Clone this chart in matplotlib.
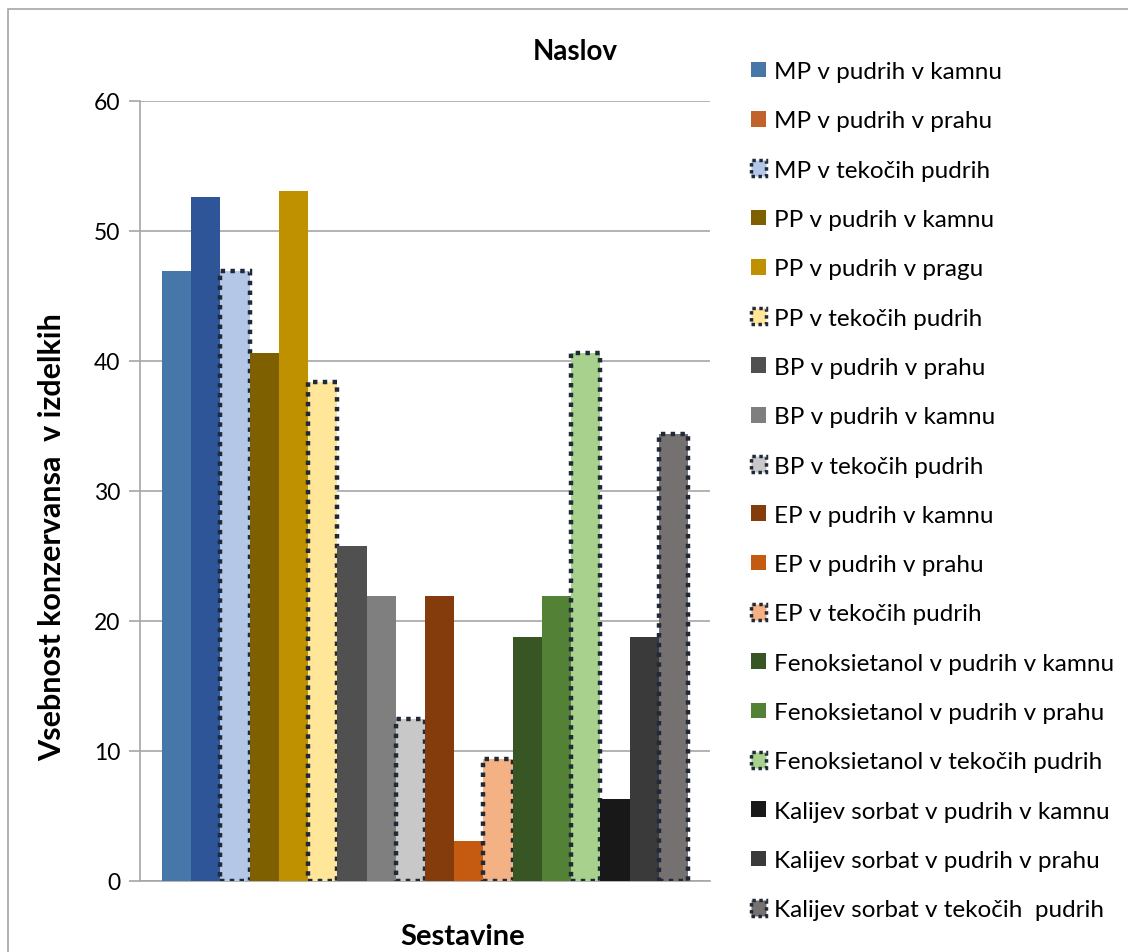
import matplotlib.pyplot as plt
from matplotlib.patches import Patch, Rectangle

# --- data ---
series = [
    "MP v pudrih v kamnu",
    "MP v pudrih v prahu",
    "MP v tekočih pudrih",
    "PP v pudrih v kamnu",
    "PP v pudrih v pragu",
    "PP v tekočih pudrih",
    "BP v pudrih v prahu",
    "BP v pudrih v kamnu",
    "BP v tekočih pudrih",
    "EP v pudrih v kamnu",
    "EP v pudrih v prahu",
    "EP v tekočih pudrih",
    "Fenoksietanol v pudrih v kamnu",
    "Fenoksietanol v pudrih v prahu",
    "Fenoksietanol v tekočih pudrih",
    "Kalijev sorbat v pudrih v kamnu",
    "Kalijev sorbat v pudrih v prahu",
    "Kalijev sorbat v tekočih  pudrih",
]
values = [46.9, 52.6, 46.9, 40.6, 53.1, 38.4, 25.8, 21.9, 12.5,
          21.9, 3.1, 9.4, 18.8, 21.9, 40.6, 6.3, 18.8, 34.4]
bar_colors = ["#4677A8", "#2E5597", "#B4C7E7", "#7F6000", "#BF9000", "#FFE699",
              "#505050", "#7F7F7F", "#C8C8C8", "#843C0C", "#C55A11", "#F4B183",
              "#375623", "#538135", "#A9D18E", "#181818", "#3A3A3A", "#767171"]
legend_colors = list(bar_colors)
legend_colors[1] = "#C0622A"
dotted = [s.startswith(("MP v t", "PP v t", "BP v t", "EP v t", "Fenoksietanol v t", "Kalijev sorbat v t"))
          for s in series]

plt.rcParams['font.family'] = ['Lato', 'DejaVu Sans']

fig = plt.figure(figsize=(11.28, 9.53), dpi=100)
ax = fig.add_axes([140 / 1128, 71 / 953, 570 / 1128, 780 / 953])

edge = "#1F2937"
for i, (v, c, d) in enumerate(zip(values, bar_colors, dotted)):
    if d:
        ax.bar(i, v, width=1.0, color=c, edgecolor=edge, linewidth=3.2,
               linestyle=(0, (1, 1.2)), zorder=3)
    else:
        ax.bar(i, v, width=1.0, color=c, linewidth=0, zorder=3)

ax.set_xlim(-1.25, 18.25)
ax.set_ylim(0, 60)
ax.set_yticks(range(0, 61, 10))
ax.set_xticks([])
ax.yaxis.grid(True, color="#A6A6A6", linewidth=1.2, zorder=0)
for s in ["top", "right"]:
    ax.spines[s].set_visible(False)
for s in ["left", "bottom"]:
    ax.spines[s].set_color("#A6A6A6")
    ax.spines[s].set_linewidth(1.2)
ax.tick_params(axis="y", length=8, width=1.2, color="#A6A6A6", labelsize=16.5, pad=6)

fig.text(575 / 1128, 1 - 52 / 953, "Naslov", ha="center", va="center",
         fontsize=20, fontweight="bold")
fig.text(463 / 1128, 1 - 937 / 953, "Sestavine", ha="center", va="center",
         fontsize=21, fontweight="bold")
fig.text(52 / 1128, 1 - 537 / 953, "Vsebnost konzervansa  v izdelkih", ha="center",
         va="center", rotation=90, fontsize=22, fontweight="bold")

handles = []
for c, d in zip(legend_colors, dotted):
    if d:
        handles.append(Patch(facecolor=c, edgecolor=edge, linewidth=2.5, linestyle=(0, (1, 1))))
    else:
        handles.append(Patch(facecolor=c, edgecolor="none"))
fig.legend(handles, series, loc="upper left", bbox_to_anchor=(751 / 1128, 1 - 62 / 953),
           frameon=False, fontsize=17.5, handlelength=0.62, handleheight=0.62,
           handletextpad=0.33, labelspacing=1.165, borderaxespad=0, borderpad=0)

fig.patches.append(Rectangle((8 / 1128, -0.1), 1.2, 1 - 10 / 953 + 0.1,
                             transform=fig.transFigure, fill=False,
                             edgecolor="#A6A6A6", linewidth=1.2))

fig.savefig("out.png", dpi=100)
